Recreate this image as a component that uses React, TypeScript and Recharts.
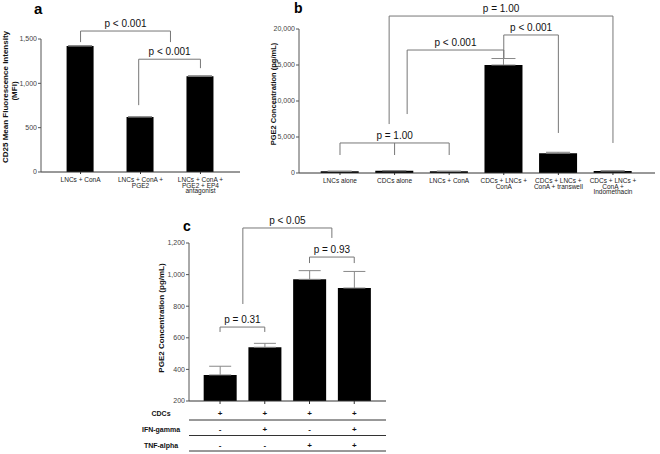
import { BarChart, Bar, XAxis, YAxis, ErrorBar, ReferenceLine, ReferenceDot } from "recharts";

// panel a
const labelsA = ["LNCs + ConA", "LNCs + ConA +\nPGE2", "LNCs + ConA +\nPGE2 + EP4\nantagonist"];
const valuesA = [1420, 620, 1080];
const errA = [6, 4, 6];

// panel b
const labelsB = [
  "LNCs alone",
  "CDCs alone",
  "LNCs + ConA",
  "CDCs + LNCs +\nConA",
  "CDCs + LNCs +\nConA + transwell",
  "CDCs + LNCs +\nConA +\nIndomethacin",
];
const valuesB = [230, 300, 230, 15000, 2750, 280];
const errB = [30, 40, 30, 900, 130, 30];

// panel c
const rowsC = ["CDCs", "IFN-gamma", "TNF-alpha"];
const cdcsC = ["+", "+", "+", "+"];
const ifnC = ["-", "+", "-", "+"];
const tnfC = ["-", "-", "+", "+"];
const valuesC = [365, 540, 970, 915];
const errC = [55, 25, 55, 105];

type Bracket = { x1: number; x2: number; top: number; y1: number; y2: number; mid?: number; text: string };

const bracketsA: Bracket[] = [
  { x1: 0, x2: 1.5, top: 1590, y1: 1465, y2: 1465, text: "p < 0.001" },
  { x1: 0.97, x2: 2, top: 1272, y1: 754, y2: 1171, text: "p < 0.001" },
];
const bracketsB: Bracket[] = [
  { x1: 0.9, x2: 5, top: 21800, y1: 6800, y2: 4170, text: "p = 1.00" },
  { x1: 3, x2: 4, top: 19170, y1: 15970, y2: 5560, text: "p < 0.001" },
  { x1: 1.23, x2: 3, top: 17080, y1: 8190, y2: 15970, text: "p < 0.001" },
  { x1: 0, x2: 2, top: 4170, y1: 2500, y2: 2500, mid: 1, text: "p = 1.00" },
];
const bracketsC: Bracket[] = [
  { x1: 0.51, x2: 2.5, top: 1295, y1: 814, y2: 1232, text: "p < 0.05" },
  { x1: 2, x2: 3, top: 1111, y1: 1073, y2: 1073, text: "p = 0.93" },
  { x1: 0, x2: 1, top: 668, y1: 637, y2: 637, text: "p = 0.31" },
];

const toData = (values: number[], errs: number[]) =>
  values.map((v, i) => ({ i, value: v, err: [0, errs[i]] }));

const dataA = toData(valuesA, errA);
const dataB = toData(valuesB, errB);
const dataC = toData(valuesC, errC);

const LINE = "#777";
const fmt = (v: number) => v.toLocaleString("en-US");

function renderBracket(b: Bracket, k: string) {
  const common = { stroke: LINE, strokeWidth: 1, ifOverflow: "visible" as const };
  const out = [
    <ReferenceLine key={k + "t"} {...common} segment={[{ x: b.x1, y: b.top }, { x: b.x2, y: b.top }]} />,
    <ReferenceLine key={k + "l"} {...common} segment={[{ x: b.x1, y: b.y1 }, { x: b.x1, y: b.top }]} />,
    <ReferenceLine key={k + "r"} {...common} segment={[{ x: b.x2, y: b.y2 }, { x: b.x2, y: b.top }]} />,
  ];
  if (b.mid !== undefined) {
    out.push(
      <ReferenceLine key={k + "m"} {...common} segment={[{ x: b.mid, y: b.y1 }, { x: b.mid, y: b.top }]} />
    );
  }
  out.push(
    <ReferenceDot
      key={k + "d"}
      x={b.mid !== undefined ? b.mid : (b.x1 + b.x2) / 2}
      y={b.top}
      r={0}
      fill="none"
      stroke="none"
      ifOverflow="visible"
      label={{ value: b.text, position: "top", offset: 4, fontSize: 10, fill: "#111" }}
    />
  );
  return out;
}

const makeTick = (labels: string[]) => (props: any) => {
  const { x, y, payload } = props;
  const lines = (labels[payload.value] || "").split("\n");
  return (
    <text x={x} y={y + 8} textAnchor="middle" fontSize={6.5} fill="#222">
      {lines.map((l, j) => (
        <tspan key={j} x={x} dy={j === 0 ? 0 : 5.6}>
          {l}
        </tspan>
      ))}
    </text>
  );
};

const TableTick = (props: any) => {
  const { x, y, payload } = props;
  const i = payload.value;
  const rows = [cdcsC[i], ifnC[i], tnfC[i]];
  return (
    <g>
      {rows.map((s, j) => (
        <text key={j} x={x} y={y + 11.5 + j * 16} textAnchor="middle" fontSize={8} fontWeight="bold" fill="#111">
          {s}
        </text>
      ))}
    </g>
  );
};

const yTick = { fontSize: 7, fill: "#444" };

export default function App() {
  return (
    <div
      style={{
        position: "absolute",
        left: 0,
        top: 0,
        width: 660,
        height: 454,
        background: "#fff",
        fontFamily: "'Liberation Sans', Arial, sans-serif",
      }}
    >
      {/* a */}
      <div style={{ position: "absolute", left: 0, top: 0 }}>
        <BarChart width={250} height={200} data={dataA} margin={{ top: 39, right: 10, bottom: 3, left: 0 }}>
          <XAxis
            dataKey="i"
            type="number"
            domain={[-0.66, 2.66]}
            allowDataOverflow
            ticks={[0, 1, 2]}
            tickSize={2}
            tickMargin={0}
            height={25}
            stroke="#333"
            tick={makeTick(labelsA)}
          />
          <YAxis
            width={41}
            domain={[0, 1500]}
            ticks={[0, 500, 1000, 1500]}
            tickFormatter={fmt}
            tickSize={3}
            tickMargin={1}
            stroke="#555"
            tick={yTick}
          />
          <Bar dataKey="value" fill="#000" barSize={27} isAnimationActive={false}>
            <ErrorBar dataKey="err" width={12} stroke="#888" strokeWidth={1} direction="y" />
          </Bar>
          {bracketsA.flatMap((b, k) => renderBracket(b, "a" + k))}
        </BarChart>
      </div>

      {/* b */}
      <div style={{ position: "absolute", left: 250, top: 0 }}>
        <BarChart width={410} height={200} data={dataB} margin={{ top: 29, right: 5, bottom: 2, left: 0 }}>
          <XAxis
            dataKey="i"
            type="number"
            domain={[-0.751, 5.77]}
            allowDataOverflow
            ticks={[0, 1, 2, 3, 4, 5]}
            tickSize={2}
            tickMargin={0}
            height={25}
            stroke="#333"
            tick={makeTick(labelsB)}
          />
          <YAxis
            width={49}
            domain={[0, 20000]}
            ticks={[0, 5000, 10000, 15000, 20000]}
            tickFormatter={fmt}
            tickSize={3}
            tickMargin={1}
            stroke="#555"
            tick={yTick}
          />
          <Bar dataKey="value" fill="#000" barSize={38} isAnimationActive={false}>
            <ErrorBar dataKey="err" width={12} stroke="#888" strokeWidth={1} direction="y" />
          </Bar>
          {bracketsB.flatMap((b, k) => renderBracket(b, "b" + k))}
        </BarChart>
      </div>

      {/* c */}
      <div style={{ position: "absolute", left: 140, top: 200 }}>
        <BarChart width={260} height={254} data={dataC} margin={{ top: 43, right: 14, bottom: 0, left: 0 }}>
          <XAxis
            dataKey="i"
            type="number"
            domain={[-0.694, 3.71]}
            allowDataOverflow
            ticks={[0, 1, 2, 3]}
            tickSize={3}
            tickMargin={0}
            height={53}
            stroke="#333"
            tick={TableTick}
          />
          <YAxis
            width={49}
            domain={[200, 1200]}
            ticks={[200, 400, 600, 800, 1000, 1200]}
            tickFormatter={fmt}
            tickSize={3}
            tickMargin={1}
            stroke="#555"
            tick={yTick}
          />
          <Bar dataKey="value" fill="#000" barSize={33} isAnimationActive={false}>
            <ErrorBar dataKey="err" width={11} stroke="#888" strokeWidth={1} direction="y" />
          </Bar>
          {bracketsC.flatMap((b, k) => renderBracket(b, "c" + k))}
        </BarChart>
      </div>

      {/* titles, axis labels, table rules */}
      <svg
        width={660}
        height={454}
        style={{ position: "absolute", left: 0, top: 0, pointerEvents: "none" }}
      >
        <g fontWeight="bold" fill="#000">
          <text x={34} y={14} fontSize={15}>a</text>
          <text x={294} y={13} fontSize={14}>b</text>
          <text x={183} y={231} fontSize={14}>c</text>
        </g>
        <g fontWeight="bold" fill="#111" textAnchor="middle">
          <text transform="translate(8,97) rotate(-90)" fontSize={8}>CD25 Mean Fluorescence Intensity</text>
          <text transform="translate(17,91) rotate(-90)" fontSize={8}>(MFI)</text>
          <text transform="translate(276,94) rotate(-90)" fontSize={7.5}>PGE2 Concentration (pg/mL)</text>
          <text transform="translate(164,318) rotate(-90)" fontSize={8}>PGE2 Concentration (pg/mL)</text>
        </g>
        <g fontWeight="bold" fill="#111" textAnchor="middle" fontSize={7}>
          {rowsC.map((r, j) => (
            <text key={r} x={161} y={415.5 + j * 16}>
              {r}
            </text>
          ))}
        </g>
        <g stroke="#333" strokeWidth={1}>
          {[420, 435.5, 451].map((y) => (
            <line key={y} x1={189} x2={386} y1={y} y2={y} />
          ))}
        </g>
      </svg>
    </div>
  );
}
